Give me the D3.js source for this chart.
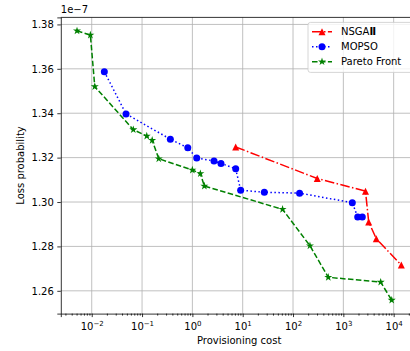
<!DOCTYPE html>
<html>
<head>
<meta charset="utf-8" />
<title>Loss probability vs provisioning cost</title>
<script src="https://cdn.jsdelivr.net/npm/d3@7"></script>
<style>
  body { margin: 0; background: #fff; }
  svg text { font-family: "DejaVu Sans", sans-serif; }
</style>
</head>
<body>
<div id="chart"></div>
<script>
// values, loss is in units of 1e-7
var nsgaCost = [7.26, 303, 2755, 3190, 4520, 14170];
var nsgaLoss = [1.3248, 1.3106, 1.3049, 1.2910, 1.2835, 1.2716];

var mopsoCost = [0.0178, 0.048, 0.365, 0.81, 1.22, 2.69, 3.7, 7.26, 9.1, 26.9, 135, 1507, 1929, 2380];
var mopsoLoss = [1.3587, 1.3397, 1.3283, 1.3244, 1.3198, 1.3185, 1.3174, 1.3150, 1.3053, 1.3044, 1.3040, 1.2997, 1.2932, 1.2932];

var paretoCost = [0.0051, 0.0094, 0.0115, 0.067, 0.124, 0.159, 0.215, 1.0, 1.44, 1.73, 62, 217, 502, 5520, 9140];
var paretoLoss = [1.3771, 1.3752, 1.3520, 1.3326, 1.3297, 1.3278, 1.3195, 1.3144, 1.3128, 1.3072, 1.2967, 1.2803, 1.2661, 1.2639, 1.2558];

var yTicks = [1.26, 1.28, 1.30, 1.32, 1.34, 1.36, 1.38];
var xTicks = [1e-2, 1e-1, 1e0, 1e1, 1e2, 1e3, 1e4];
var xExps = ["\u22122", "\u22121", "0", "1", "2", "3", "4"];
var seriesNames = ["NSGA", "MOPSO", "Pareto Front"];

var width = 410, height = 351;
// plot box (note: "top" is taken by window.top, so use other names)
var pl = 60.8, pr = 417.5, pt = 17.4, pb = 313.6;

var svg = d3.select("#chart").append("svg")
    .attr("width", width)
    .attr("height", height);

// matplotlib style 5% margins
var allCost = nsgaCost.concat(mopsoCost, paretoCost);
var allLoss = nsgaLoss.concat(mopsoLoss, paretoLoss);
var lx0 = Math.log10(d3.min(allCost)), lx1 = Math.log10(d3.max(allCost));
var padX = (lx1 - lx0) * 0.05;
var y0 = d3.min(allLoss), y1 = d3.max(allLoss);
var padY = (y1 - y0) * 0.05;

var x = d3.scaleLog()
    .domain([Math.pow(10, lx0 - padX), Math.pow(10, lx1 + padX)])
    .range([pl, pr]);
var y = d3.scaleLinear()
    .domain([y0 - padY, y1 + padY])
    .range([pb, pt]);

// grid
var grid = svg.append("g");
grid.selectAll(".gx").data(xTicks).enter().append("line")
    .attr("x1", function(d) { return x(d); })
    .attr("x2", function(d) { return x(d); })
    .attr("y1", pt).attr("y2", pb)
    .attr("stroke", "#b0b0b0").attr("stroke-width", 0.8);
grid.selectAll(".gy").data(yTicks).enter().append("line")
    .attr("y1", function(d) { return y(d); })
    .attr("y2", function(d) { return y(d); })
    .attr("x1", pl).attr("x2", pr)
    .attr("stroke", "#b0b0b0").attr("stroke-width", 0.8);

// axes
var xAxis = svg.append("g")
    .attr("transform", "translate(0," + pb + ")")
    .call(d3.axisBottom(x).tickValues(xTicks).tickSize(3.5).tickFormat(""));
var minor = [];
for (var e = -3; e <= 4; e++) {
  for (var m = 2; m <= 9; m++) {
    var v = m * Math.pow(10, e);
    if (v > x.domain()[0] && v < x.domain()[1]) minor.push(v);
  }
}
svg.append("g")
    .attr("transform", "translate(0," + pb + ")")
    .call(d3.axisBottom(x).tickValues(minor).tickSize(2).tickFormat(""))
    .call(function(g) { g.select(".domain").remove(); });

xAxis.selectAll(".tick").append("text")
    .attr("y", 16.5)
    .attr("fill", "#000")
    .attr("font-size", "10px")
    .attr("text-anchor", "middle")
    .each(function(d, i) {
      var t = d3.select(this);
      t.append("tspan").text("10");
      t.append("tspan").attr("dy", -4.5).attr("font-size", "7px").text(xExps[i]);
    });

var yAxis = svg.append("g")
    .attr("transform", "translate(" + pl + ",0)")
    .call(d3.axisLeft(y).tickValues(yTicks).tickSize(3.5).tickPadding(3.5).tickFormat(d3.format(".2f")));
yAxis.selectAll("text").attr("font-size", "10px").attr("fill", "#000");

svg.selectAll(".domain").attr("stroke", "#000").attr("stroke-width", 0.8);
svg.selectAll(".tick line").attr("stroke", "#000").attr("stroke-width", 0.8);

// frame top/right
svg.append("line").attr("x1", pl).attr("x2", pr).attr("y1", pt).attr("y2", pt)
    .attr("stroke", "#000").attr("stroke-width", 0.8);
svg.append("line").attr("x1", pr).attr("x2", pr).attr("y1", pt).attr("y2", pb)
    .attr("stroke", "#000").attr("stroke-width", 0.8);

svg.append("text")
    .attr("x", pl).attr("y", pt - 4)
    .attr("font-size", "10px")
    .text("1e\u22127");

svg.append("text")
    .attr("x", (pl + pr) / 2).attr("y", 344)
    .attr("text-anchor", "middle")
    .attr("font-size", "10px")
    .text("Provisioning cost");

svg.append("text")
    .attr("transform", "translate(24," + (pt + pb) / 2 + ") rotate(-90)")
    .attr("text-anchor", "middle")
    .attr("font-size", "10px")
    .text("Loss probability");

// markers
var triangle = {
  draw: function(ctx, size) {
    var r = Math.sqrt(size) / 2;
    ctx.moveTo(0, -r);
    ctx.lineTo(r, r);
    ctx.lineTo(-r, r);
    ctx.closePath();
  }
};
var series = [
  { cost: nsgaCost, loss: nsgaLoss, color: "#ff0000", dash: "9.6,2.4,1.5,2.4", sym: d3.symbol().type(triangle).size(49) },
  { cost: mopsoCost, loss: mopsoLoss, color: "#0000ff", dash: "1.5,2.5", sym: d3.symbol().type(d3.symbolCircle).size(Math.PI * 3.5 * 3.5) },
  { cost: paretoCost, loss: paretoLoss, color: "#008000", dash: "5.55,2.4", sym: d3.symbol().type(d3.symbolStar).size(20) }
];

var line = d3.line()
    .x(function(d) { return x(d[0]); })
    .y(function(d) { return y(d[1]); });

series.forEach(function(s) {
  var pts = d3.zip(s.cost, s.loss);
  svg.append("path")
      .datum(pts)
      .attr("d", line)
      .attr("fill", "none")
      .attr("stroke", s.color)
      .attr("stroke-width", 1.5)
      .attr("stroke-dasharray", s.dash);
  svg.append("g").selectAll("path").data(pts).enter().append("path")
      .attr("d", s.sym)
      .attr("transform", function(d) { return "translate(" + x(d[0]) + "," + y(d[1]) + ")"; })
      .attr("fill", s.color);
});

// legend
var lg = svg.append("g");
lg.append("rect")
    .attr("x", 308).attr("y", pt + 5)
    .attr("width", 106).attr("height", 50)
    .attr("rx", 2.5)
    .attr("fill", "#fff").attr("fill-opacity", 0.8)
    .attr("stroke", "#cccccc").attr("stroke-width", 0.8);
series.forEach(function(s, i) {
  var cy = 31.7 + i * 15;
  lg.append("line")
      .attr("x1", 312).attr("x2", 332).attr("y1", cy).attr("y2", cy)
      .attr("stroke", s.color).attr("stroke-width", 1.5)
      .attr("stroke-dasharray", s.dash);
  lg.append("path")
      .attr("d", s.sym)
      .attr("transform", "translate(322," + cy + ")")
      .attr("fill", s.color);
  var t = lg.append("text")
      .attr("x", 341).attr("y", cy + 3.6)
      .attr("font-size", "10px")
      .text(seriesNames[i]);
  if (i === 0) t.append("tspan").attr("font-weight", "bold").text("\u2161");
});
</script>
</body>
</html>
